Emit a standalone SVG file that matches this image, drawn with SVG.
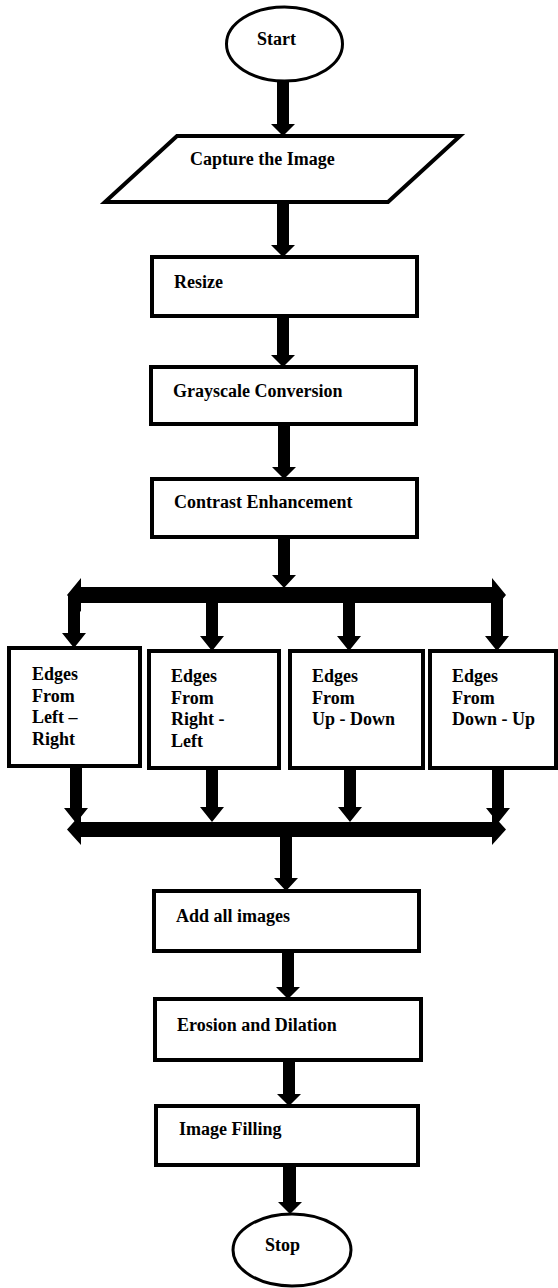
<svg xmlns="http://www.w3.org/2000/svg" width="558" height="1288" viewBox="0 0 558 1288">
<style>
.shape{fill:#fff;stroke:#000;stroke-width:4}
.ell{fill:#fff;stroke:#000;stroke-width:3}
.t{font-family:"Liberation Serif","DejaVu Serif",serif;font-weight:bold;font-size:18px;fill:#000}
.c{fill:#000;stroke:none}
</style>
<rect width="558" height="1288" fill="#fff"/>
<g id="connectors">
<polygon class="c" points="277,82 289,82 289,124 295,124 283,136 271,124 277,124"/>
<polygon class="c" points="277,203 289,203 289,245 295,245 283,257 271,245 277,245"/>
<polygon class="c" points="277,316 289,316 289,355 295,355 283,367 271,355 277,355"/>
<polygon class="c" points="278,424 290,424 290,467 296,467 284,479 272,467 278,467"/>
<polygon class="c" points="278,537 290,537 290,575 296,575 284,588 272,575 278,575"/>
<polygon class="c" points="81,587 492,587 492,578 506,595 492,612 492,603 81,603 81,612 67,595 81,578"/>
<polygon class="c" points="68,595 80,595 80,633 86,633 74,648 62,633 68,633"/>
<polygon class="c" points="206,603 218,603 218,636 224,636 212,651 200,636 206,636"/>
<polygon class="c" points="343,603 355,603 355,636 361,636 349,651 337,636 343,636"/>
<polygon class="c" points="491,595 503,595 503,636 509,636 497,651 485,636 491,636"/>
<polygon class="c" points="70,766 82,766 82,808 88,808 76,823 64,808 70,808"/>
<polygon class="c" points="206,768 218,768 218,807 224,807 212,822 200,807 206,807"/>
<polygon class="c" points="344,768 356,768 356,807 362,807 350,822 338,807 344,807"/>
<polygon class="c" points="492,768 504,768 504,808 510,808 498,823 486,808 492,808"/>
<polygon class="c" points="81,822 492,822 492,814 506,829.5 492,845 492,837 81,837 81,845 67,829.5 81,814"/>
<polygon class="c" points="280,829 292,829 292,878 298,878 286,891 274,878 280,878"/>
<polygon class="c" points="282,951 294,951 294,987 300,987 288,999 276,987 282,987"/>
<polygon class="c" points="283,1060 295,1060 295,1094 301,1094 289,1106 277,1094 283,1094"/>
<polygon class="c" points="283,1165 296,1165 296,1202 302,1202 290,1214 278,1202 283,1202"/>
</g>
<g id="start">
<ellipse class="ell" cx="284.5" cy="44" rx="58" ry="37"/>
<text class="t" x="257" y="45">Start</text>
</g>
<g id="capture">
<polygon class="shape" points="177,136 460,136 388,202 105,202"/>
<text class="t" x="190" y="165">Capture the Image</text>
</g>
<g id="resize">
<rect class="shape" x="152" y="257" width="265" height="59"/>
<text class="t" x="174" y="288">Resize</text>
</g>
<g id="grayscale">
<rect class="shape" x="151" y="367" width="265" height="57"/>
<text class="t" x="173" y="397">Grayscale Conversion</text>
</g>
<g id="contrast">
<rect class="shape" x="152" y="479" width="265" height="58"/>
<text class="t" x="174" y="508">Contrast Enhancement</text>
</g>
<g id="edges-lr">
<rect class="shape" x="9" y="648" width="131" height="118"/>
<text class="t" x="32" y="680">Edges</text>
<text class="t" x="32" y="702">From</text>
<text class="t" x="32" y="723">Left –</text>
<text class="t" x="32" y="745">Right</text>
</g>
<g id="edges-rl">
<rect class="shape" x="149" y="651" width="130" height="117"/>
<text class="t" x="171" y="682">Edges</text>
<text class="t" x="171" y="704">From</text>
<text class="t" x="171" y="725">Right -</text>
<text class="t" x="171" y="747">Left</text>
</g>
<g id="edges-ud">
<rect class="shape" x="290" y="651" width="133" height="117"/>
<text class="t" x="312" y="682">Edges</text>
<text class="t" x="312" y="704">From</text>
<text class="t" x="312" y="725">Up - Down</text>
</g>
<g id="edges-du">
<rect class="shape" x="430" y="651" width="126" height="117"/>
<text class="t" x="452" y="682">Edges</text>
<text class="t" x="452" y="704">From</text>
<text class="t" x="452" y="725">Down - Up</text>
</g>
<g id="add">
<rect class="shape" x="154" y="891" width="265" height="60"/>
<text class="t" x="176" y="922">Add all images</text>
</g>
<g id="erosion">
<rect class="shape" x="155" y="999" width="266" height="61"/>
<text class="t" x="177" y="1031">Erosion and Dilation</text>
</g>
<g id="filling">
<rect class="shape" x="156" y="1106" width="262" height="59"/>
<text class="t" x="179" y="1135">Image Filling</text>
</g>
<g id="stop">
<ellipse class="ell" cx="292" cy="1250" rx="59" ry="36"/>
<text class="t" x="265" y="1251">Stop</text>
</g>
</svg>
